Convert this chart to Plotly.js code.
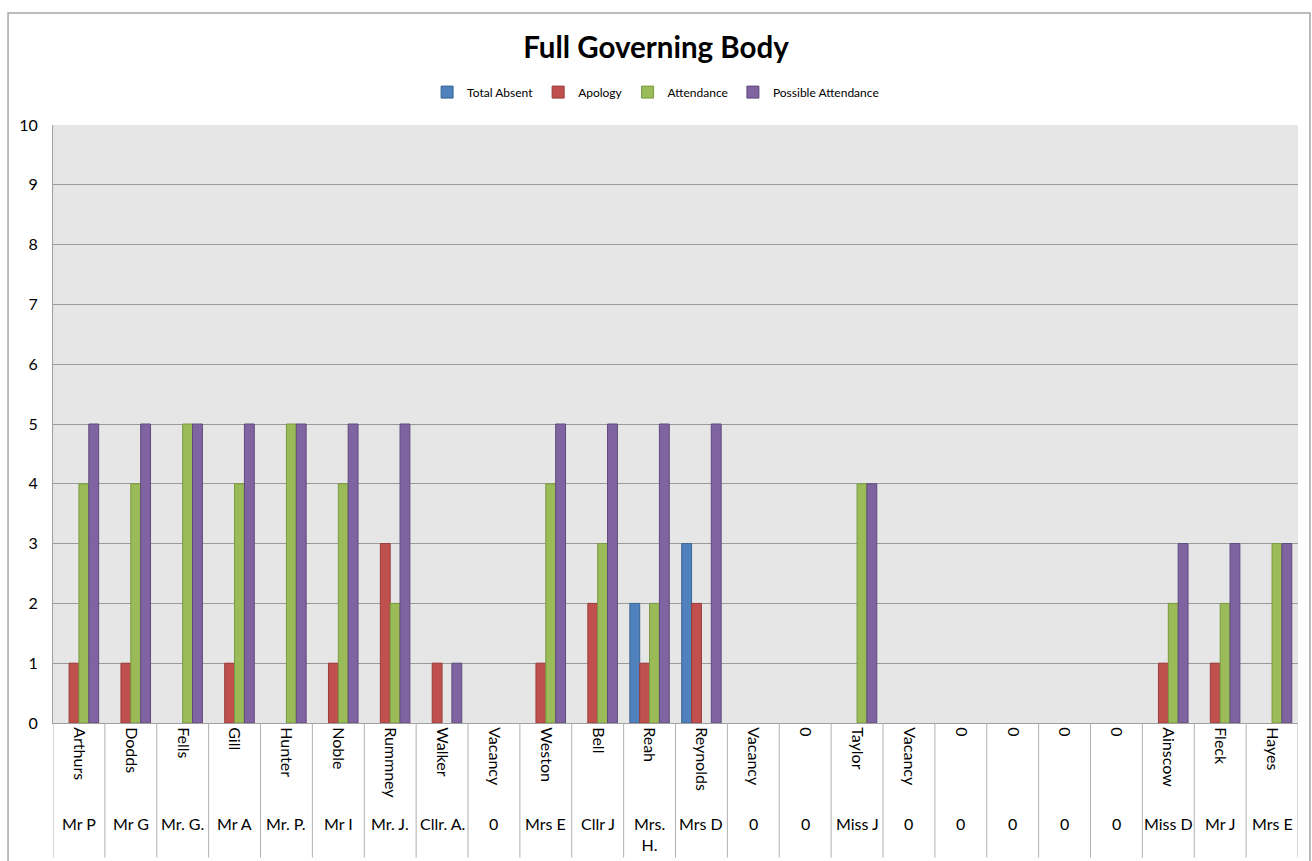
<!DOCTYPE html>
<html>
<head>
<meta charset="utf-8">
<script src="https://cdn.plot.ly/plotly-3.0.1.min.js"></script>
<style>
  html, body { margin: 0; padding: 0; background: #ffffff; }
  #chart { width: 1312px; height: 861px; }
</style>
</head>
<body>
<div id="chart"></div>
<script>
const surnames = ["Arthurs","Dodds","Fells","Gill","Hunter","Noble","Rummney","Walker","Vacancy","Weston","Bell","Reah","Reynolds","Vacancy","0","Taylor","Vacancy","0","0","0","0","Ainscow","Fleck","Hayes"];
const titles = ["Mr P","Mr G","Mr. G.","Mr A","Mr. P.","Mr I","Mr. J.","Cllr. A.","0","Mrs E","Cllr J","Mrs.<br>H.","Mrs D","0","0","Miss J","0","0","0","0","0","Miss D","Mr J","Mrs E"];
const totalAbsent = [0,0,0,0,0,0,0,0,0,0,0,2,3,0,0,0,0,0,0,0,0,0,0,0];
const apology = [1,1,0,1,0,1,3,1,0,1,2,1,2,0,0,0,0,0,0,0,0,1,1,0];
const attendance = [4,4,5,4,5,4,2,0,0,4,3,2,0,0,0,4,0,0,0,0,0,2,2,3];
const possibleAttendance = [5,5,5,5,5,5,5,1,0,5,5,5,5,0,0,4,0,0,0,0,0,3,3,3];

const idx = surnames.map((_, i) => i);
const FONT = 'Lato, "Noto Sans", sans-serif';

function series(name, values, fill, edge) {
  return {
    type: 'bar', name: name, x: idx,
    // zero-height bars are not drawn (as in the original)
    y: values.map(v => (v === 0 ? null : v)),
    marker: { color: fill, line: { color: edge, width: 1 } },
    hoverinfo: 'y+name'
  };
}

const data = [
  series('Total Absent', totalAbsent, '#4F81BD', '#3A6595'),
  series('Apology', apology, '#C0504D', '#9A3C3A'),
  series('Attendance', attendance, '#9BBB59', '#789A3F'),
  series('Possible Attendance', possibleAttendance, '#8064A2', '#5F4A7C')
];

const shapes = [];
// outer chart frame
shapes.push({ type: 'rect', xref: 'paper', yref: 'paper', x0: -0.0361, x1: 1.0096, y0: -0.26, y1: 1.1873,
  line: { color: '#a6a6a6', width: 1.5 }, fillcolor: 'rgba(0,0,0,0)', layer: 'below' });
// category separators below the axis
for (let i = 0; i <= surnames.length; i++) {
  shapes.push({ type: 'line', xref: 'x', yref: 'paper', x0: i - 0.5, x1: i - 0.5, y0: 0, y1: -0.225,
    line: { color: '#b0b0b0', width: 1 } });
}

const annotations = titles.map((t, i) => ({
  xref: 'x', yref: 'paper', x: i, y: -0.148, yanchor: 'top', xanchor: 'center',
  text: t, showarrow: false, font: { family: FONT, size: 16, color: '#000' }
}));

const layout = {
  width: 1312, height: 861,
  margin: { l: 53, r: 14, t: 125, b: 138 },
  paper_bgcolor: '#ffffff',
  plot_bgcolor: '#e6e6e6',
  font: { family: FONT, size: 16, color: '#000' },
  title: { text: '<b>Full Governing Body</b>', font: { family: FONT, size: 29.5, color: '#000' },
    x: 0.5, xanchor: 'center', y: 0.945, yanchor: 'middle', yref: 'container' },
  showlegend: true,
  legend: { orientation: 'h', x: 0.484, xanchor: 'center', y: 1.055, yanchor: 'middle',
    font: { family: FONT, size: 12, color: '#000' }, itemwidth: 30, traceorder: 'normal' },
  barmode: 'group', bargap: 0.24, bargroupgap: 0,
  xaxis: {
    type: 'linear', range: [-0.5, 23.5],
    tickmode: 'array', tickvals: idx, ticktext: surnames, tickangle: 90,
    ticks: '', showgrid: false, zeroline: false,
    showline: true, linecolor: '#a0a0a0', linewidth: 1,
    tickfont: { family: FONT, size: 16, color: '#000' }, fixedrange: true
  },
  yaxis: {
    range: [0, 10], tickmode: 'linear', tick0: 0, dtick: 1,
    showgrid: true, gridcolor: '#9a9a9a', gridwidth: 1,
    zeroline: false, showline: true, linecolor: '#a0a0a0', linewidth: 1,
    ticks: '', ticklabelstandoff: 11,
    tickfont: { family: FONT, size: 16, color: '#000' }, fixedrange: true
  },
  shapes: shapes,
  annotations: annotations
};

Plotly.newPlot('chart', data, layout, { displayModeBar: false, staticPlot: true });
</script>
</body>
</html>
